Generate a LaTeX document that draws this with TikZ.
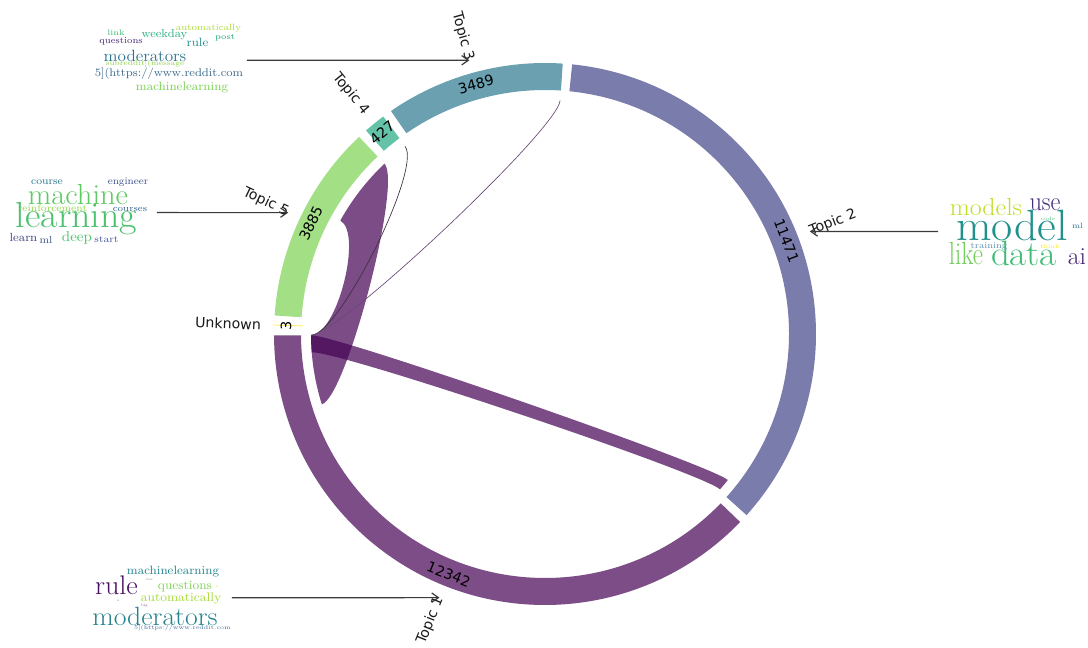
\documentclass[tikz,border=0pt]{standalone}
\usepackage{fontspec}
\newfontfamily\dvsans{DejaVu Sans}
\usetikzlibrary{arrows.meta}
\definecolor{tone}{HTML}{7C4D87}
\definecolor{ttwo}{HTML}{7A7CAB}
\definecolor{tthree}{HTML}{6AA0B0}
\definecolor{tfour}{HTML}{64C2A9}
\definecolor{tfive}{HTML}{A2DF85}
\definecolor{tunk}{HTML}{FEEE66}
\definecolor{vpurple}{HTML}{440154}
\definecolor{arrowgray}{HTML}{3A3A3A}
\definecolor{thinA}{HTML}{3E3040}
\definecolor{thinB}{HTML}{6A4A78}
\tikzset{
  chordfill/.style={fill=vpurple, fill opacity=0.7},
  numtext/.style={font=\dvsans\fontsize{10.7}{12}\selectfont, inner sep=0pt, text=black},
  toptext/.style={font=\dvsans\fontsize{10.6}{12}\selectfont, inner sep=0pt, text=black!90},
  cwnode/.style={inner sep=0pt, anchor=base},
  cloudarrow/.style={draw=arrowgray, line width=0.9pt, -{Straight Barb[length=5pt,width=7pt]}},
  thinchord/.style={line width=0.5pt}
}
\def\cwk{1.095}
\newcommand{\ringarc}[3]{\fill[#3] (#1:203.25pt) arc[start angle=#1,end angle=#2,radius=203.25pt] -- (#2:183pt) arc[start angle=#2,end angle=#1,radius=183pt] -- cycle;}
\newcommand{\chordband}[4]{\fill[chordfill] (#1:175.5pt) arc[start angle=#1,end angle=#2,radius=175.5pt] .. controls (#2:156pt) and (#3:156pt) .. (#3:175.5pt) arc[start angle=#3,end angle=#4,radius=175.5pt] .. controls (#4:156pt) and (#1:156pt) .. (#1:175.5pt) -- cycle;}
\newcommand{\cloudword}[7]{\pgfmathsetmacro{\cwsize}{#4*\cwk}\pgfmathsetmacro{\cwxs}{#5/\cwk}\definecolor{cwtmp}{HTML}{#6}\node[cwnode, xscale=\cwxs, text=cwtmp, font=\fontsize{\cwsize}{\cwsize}\selectfont] (#1) at (#2,#3) {#7};}
\begin{document}
\begin{tikzpicture}
\fill[white] (-408.75pt,-235.5pt) rectangle (407.25pt,250.5pt);
\useasboundingbox (-408.75pt,-235.5pt) rectangle (407.25pt,250.5pt);

% ring
\ringarc{180.3}{316.06}{tone}
\ringarc{318.06}{444.25}{ttwo}
\ringarc{86.25}{124.63}{tthree}
\ringarc{126.63}{131.33}{tfour}
\ringarc{133.33}{176.07}{tfive}
\draw[tunk, line width=0.7pt] (178.09:181.5pt) -- (178.09:204pt);

% chords
\chordband{180.3}{197.5}{133.3}{151}
\chordband{180.3}{184.5}{318.4}{321.4}
\draw[thinchord, thinA] (180.3:175.5pt) .. controls (180.3:154.4pt) and (126.7:154.4pt) .. (126.7:175.5pt);
\draw[thinchord, thinB] (180.3:175.5pt) .. controls (180.3:154.4pt) and (86.3:154.4pt) .. (86.3:175.5pt);

% numbers
\node[numtext, rotate=-21.82] (n1) at (248.18:194.25pt) {12342};
\node[numtext, rotate=-68.845] (n2) at (21.155:194.25pt) {11471};
\node[numtext, rotate=15.44] (n3) at (105.44:194.25pt) {3489};
\node[numtext, rotate=38.98] (n4) at (128.98:194.25pt) {427};
\node[numtext, rotate=64.7] (n5) at (154.7:194.25pt) {3885};
\node[numtext, rotate=88.09] (n6) at (178.09:194.25pt) {3};

% topic labels
\coordinate (t1) at (248.18:213pt);
\coordinate (t2) at (21.155:213pt);
\coordinate (t3) at (105.44:213pt);
\coordinate (t4) at (128.98:213pt);
\coordinate (t5) at (154.7:213pt);
\coordinate (tu) at (178.09:213pt);
\node[toptext, anchor=east, rotate=68.18] (l1) at (t1) {Topic 1};
\node[toptext, anchor=west, rotate=21.155] (l2) at (t2) {Topic 2};
\node[toptext, anchor=east, rotate=-74.56] (l3) at (t3) {Topic 3};
\node[toptext, anchor=east, rotate=-51.02] (l4) at (t4) {Topic 4};
\node[toptext, anchor=east, rotate=-25.3] (l5) at (t5) {Topic 5};
\node[toptext, anchor=east, rotate=-1.91] (l6) at (tu) {Unknown};

\begin{scope}[shift={(-408.75pt,250.5pt)}, x=0.75pt, y=-0.75pt]
% cloud Topic 3
\cloudword{a1}{208.5}{30.5}{6.22}{1.15}{ADDC30}{automatically}
\cloudword{a2}{116}{36}{5.57}{1.15}{3FBC73}{link}
\cloudword{a3}{164.5}{38}{7.89}{1.15}{2AB07F}{weekday}
\cloudword{a4}{197.5}{46.5}{8.2}{1.15}{21918C}{rule}
\cloudword{a5}{225}{40}{5.67}{1.15}{22A884}{post}
\cloudword{a6}{121}{44}{6.14}{1.15}{482878}{questions}
\cloudword{a7}{145}{61.5}{11.18}{1.15}{2C728E}{moderators}
\cloudword{a8}{145}{65.5}{5.03}{1.15}{8ED645}{subreddit](message}
\cloudword{a9}{169}{76.5}{7.71}{1.15}{3E6D8E}{5](https://www.reddit.com}
\cloudword{a10}{182}{91}{8.25}{1.15}{7AD151}{machinelearning}
% cloud Topic 5
\cloudword{b1}{47}{184.5}{7.17}{1.15}{2A788E}{course}
\cloudword{b2}{128}{184.5}{6.86}{1.15}{3B528B}{engineer}
\cloudword{b3}{78}{204.5}{19.87}{1.15}{5EC962}{machine}
\cloudword{b4}{52.5}{211.8}{6.65}{1.15}{90D743}{reinforcement}
\cloudword{b5}{130}{211.8}{6.26}{1.15}{33638D}{courses}
\cloudword{b6}{76.5}{228}{24.75}{1.15}{4AC16D}{learning}
\cloudword{b7}{23.5}{241.5}{8.1}{1.15}{414487}{learn}
\cloudword{b8}{46}{243.5}{7.04}{1.15}{3B528B}{ml}
\cloudword{b9}{77}{241.5}{9.78}{1.15}{4AC16D}{deep}
\cloudword{b10}{106.5}{242.5}{6.63}{1.15}{46589A}{start}
% cloud Topic 2
\cloudword{c1}{986}{216}{16.9}{1.15}{BDDF26}{models}
\cloudword{c2}{1045}{211}{18.3}{0.996}{472F7D}{use}
\cloudword{c3}{1048}{220.7}{3.35}{1.15}{3FBC73}{code}
\cloudword{c4}{1012}{241}{30}{1.15}{21918C}{model}
\cloudword{c5}{1077.5}{228.7}{5.3}{1.15}{2C728E}{ml}
\cloudword{c6}{989}{248.3}{6.05}{1.15}{5F8FB0}{training}
\cloudword{c7}{1050}{248.3}{3.96}{1.15}{FDE725}{think}
\cloudword{c8}{966}{265}{21.9}{0.854}{6ECE58}{like}
\cloudword{c9}{1024}{266}{24.1}{1.15}{3DBC74}{data}
\cloudword{c10}{1077}{264.3}{16.8}{1.15}{482475}{ai}
% cloud Topic 1
\cloudword{d1}{173}{574.3}{8.25}{1.15}{25858E}{machinelearning}
\cloudword{d2}{149.5}{580.5}{2.3}{1.15}{8C7FA8}{use}
\cloudword{d3}{116.5}{594.8}{18.4}{1.15}{46105F}{rule}
\cloudword{d4}{185}{590}{8.72}{1.15}{7CD250}{questions}
\cloudword{d5}{217}{587.5}{2.5}{1.0}{D8E219}{a}
\cloudword{d6}{181}{601.5}{8.52}{1.15}{A5DB36}{automatically}
\cloudword{d7}{118}{601.5}{2.5}{1.0}{6A9A9A}{a}
\cloudword{d8}{144.5}{606.5}{2.4}{1.15}{8A4F9A}{big}
\cloudword{d9}{155}{626}{18.1}{1.15}{26828E}{moderators}
\cloudword{d10}{182.5}{630}{3.9}{1.15}{3E6D9A}{5](https://www.reddit.com}
% arrows from clouds to topics
\coordinate (s3) at (247,60.3);
\coordinate (s5) at (157,212.6);
\coordinate (s2) at (938,231.5);
\coordinate (s1) at (232,597.7);
\draw[cloudarrow] (s3) -- (t3);
\draw[cloudarrow] (s5) -- (t5);
\draw[cloudarrow] (s2) -- (t2);
\draw[cloudarrow] (s1) -- (t1);
\end{scope}
\end{tikzpicture}
\end{document}
